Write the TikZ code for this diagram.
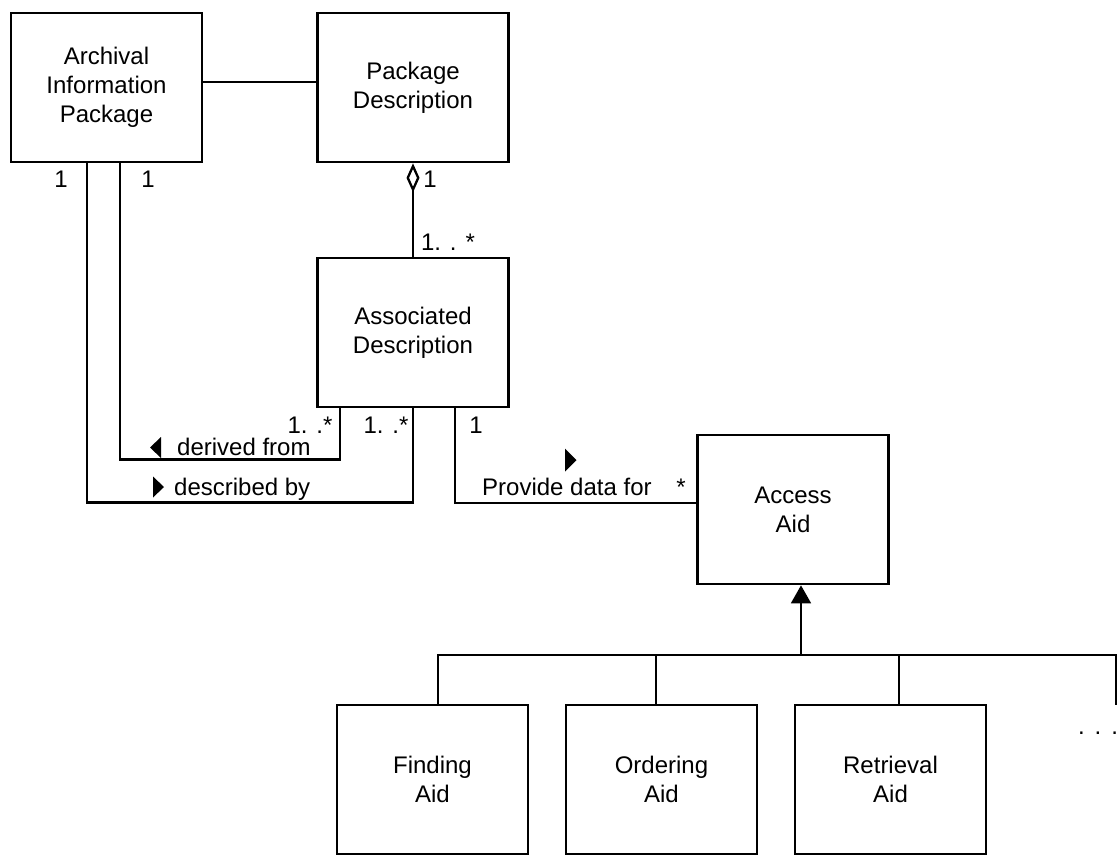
\documentclass[tikz,border=0pt]{standalone}
\usepackage{fontspec}
\setmainfont{Liberation Sans}
\usetikzlibrary{arrows.meta}

\begin{document}
\begin{tikzpicture}[x=1pt, y=-1pt, node distance=229pt, auto,
    font=\fontsize{24}{29}\selectfont,
    cls/.style={draw, line width=2.7pt, minimum width=191pt, minimum height=149pt, align=center, inner sep=0pt},
    lbl/.style={inner sep=0pt},
    assoc/.style={line width=2.3pt},
    gen/.style={line width=1.7pt}]
    \useasboundingbox (0,0) rectangle (1119,855);

    \node[cls] (AIP) at (106.5,87.5) {Archival\\Information\\Package};
    \node[cls] (PD) [right of=AIP, xshift=77.5pt] {Package\\Description};
    \node[cls] (AD) [below of=PD, yshift=-16pt] {Associated\\Description};
    \node[cls] (AA) at (793,509.5) {Access\\Aid};
    \node[cls] (FA) at (432.5,779.5) {Finding\\Aid};
    \node[cls] (OA) [right of=FA] {Ordering\\Aid};
    \node[cls] (RA) [right of=OA] {Retrieval\\Aid};
    \node[lbl] (more) at (1098,733) {.\kern10pt.\kern10pt.};

    \draw[assoc] ([yshift=5.5pt]AIP.east) -- ([yshift=5.5pt]PD.west);
    \draw[assoc, {Diamond[open, length=29pt, width=13pt]}-] (PD) to (AD);
    \draw[assoc] ([xshift=13.5pt]AIP.south) -- ++(0,296) -| ([xshift=-73pt]AD.south);
    \draw[assoc] ([xshift=-19.5pt]AIP.south) -- ++(0,339) -| (AD.south);
    \draw[assoc] ([xshift=42pt]AD.south) |- ([yshift=6.5pt]AA.west);

    \node[lbl, anchor=base] (m1) at (430,187) {1};
    \node[lbl, anchor=base] (m2) at (448,250) {1. . *};
    \node[lbl, anchor=base] (m3) at (61,187) {1};
    \node[lbl, anchor=base] (m4) at (148,187) {1};
    \node[lbl, anchor=base] (m5) at (310,433) {1. .*};
    \node[lbl, anchor=base] (m6) at (386,433) {1. .*};
    \node[lbl, anchor=base] (m7) at (476,433) {1};
    \node[lbl, anchor=base] (m8) at (681,495) {*};

    \node[lbl, anchor=base west] (derived) at (177,455) {derived from};
    \node[lbl, anchor=base west] (described) at (174,495) {described by};
    \node[lbl, anchor=base west] (provide) at (482,495) {Provide data for};
    \fill (derived.base west) ++(-16,-18) -- ++(0,21) -- ++(-11,-10.5) -- cycle;
    \fill (described.base west) ++(-21,-18.5) -- ++(0,21) -- ++(11,-10.5) -- cycle;
    \fill (provide.base west) ++(83,-46.5) -- ++(0,23) -- ++(11.5,-11.5) -- cycle;

    \coordinate (bus) at (801,655);
    \coordinate (moreTop) at (1116,705);
    \path ([xshift=5.5pt]FA.north) coordinate (faTop)
          ([xshift=-5.5pt]OA.north) coordinate (oaTop)
          ([xshift=8.5pt]RA.north) coordinate (raTop);
    \draw[gen] (faTop) |- (moreTop |- bus) -- (moreTop);
    \draw[gen] (oaTop) -- (oaTop |- bus);
    \draw[gen] (raTop) -- (raTop |- bus);
    \draw[gen, -{Triangle[length=18pt, width=20pt]}] (bus) -- (bus |- AA.south);
\end{tikzpicture}
\end{document}
